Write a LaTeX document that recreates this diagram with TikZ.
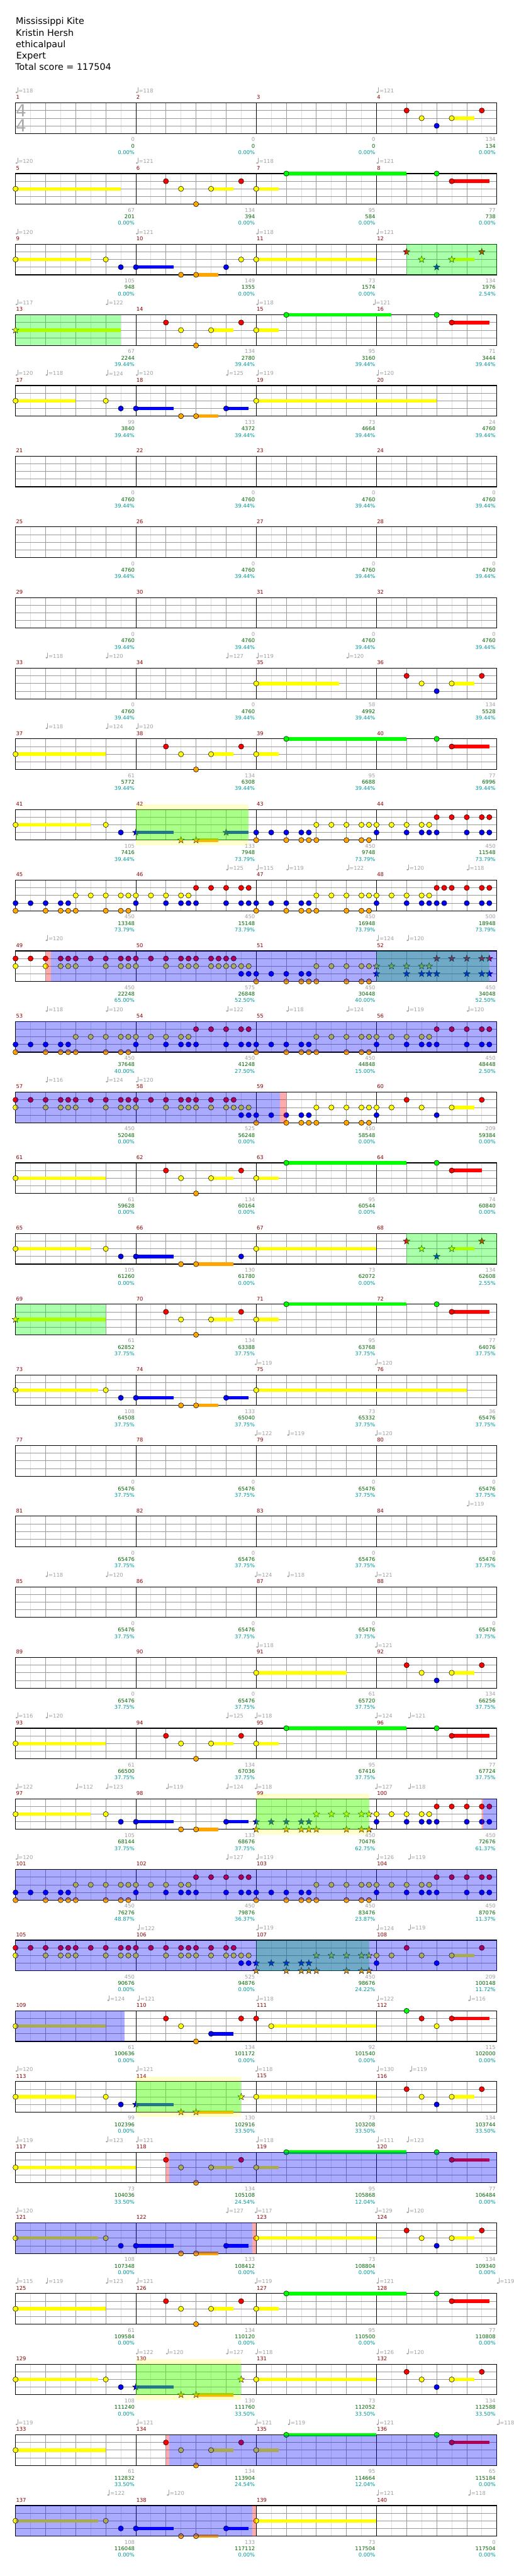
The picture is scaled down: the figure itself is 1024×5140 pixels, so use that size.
\documentclass[tikz,border=0pt]{standalone}
\usepackage{fontspec}
\setmainfont{DejaVu Sans}

\definecolor{barred}{RGB}{139,0,0}
\definecolor{tempogray}{RGB}{160,160,160}
\definecolor{totalgreen}{RGB}{0,100,0}
\definecolor{sppct}{RGB}{0,153,153}
\definecolor{gridgray}{RGB}{153,153,153}
\definecolor{gridlight}{RGB}{221,221,221}
\definecolor{tsgray}{RGB}{170,170,170}
\definecolor{ngreen}{RGB}{0,255,0}
\definecolor{nred}{RGB}{255,0,0}
\definecolor{nyellow}{RGB}{255,255,0}
\definecolor{nblue}{RGB}{0,0,255}
\definecolor{norange}{RGB}{255,165,0}

\tikzset{every picture/.style={line width=0.75pt}}
\tikzset{
  lightgrid/.style={color=gridlight,line width=0.75pt},
  beatgrid/.style={color=gridgray,line width=0.75pt},
  barline/.style={color=black,line width=0.75pt},
  chartbox/.style={color=black,line width=1.1pt},
  notehead/.style={draw=black,line width=0.5pt},
  starhead/.style={draw=black,line width=0.4pt},
  chartfont/.style={inner sep=0pt,font=\fontsize{7.9}{9}\selectfont},
  barnum/.style={chartfont,anchor=west,text=barred},
  bpmlabel/.style={chartfont,anchor=west,text=tempogray},
  gainlabel/.style={chartfont,anchor=east,text=tempogray},
  totallabel/.style={chartfont,anchor=east,text=totalgreen},
  splabel/.style={chartfont,anchor=east,text=sppct},
  titletext/.style={anchor=base west,inner sep=0pt,font=\fontsize{13.5}{16}\selectfont},
  timesig/.style={inner sep=0pt,text=tsgray,font=\fontsize{25}{25}\selectfont}
}

\newcounter{bpmno}
% one row of four bars: row index, first bar number
\newcommand{\chartrow}[2]{%
  \pgfmathsetmacro\rowT{205.3+141*(#1-1)}%
  \foreach \k in {0.5,1.5,...,15.5} \draw[lightgrid] (31+60*\k,\rowT) -- ++(0,61);
  \foreach \k in {1,2,3,5,6,7,9,10,11,13,14,15} \draw[beatgrid] (31+60*\k,\rowT) -- ++(0,61);
  \foreach \l in {1,2,3} \draw[beatgrid] (31,\rowT+15.25*\l) -- (991,\rowT+15.25*\l);
  \foreach \k in {4,8,12} \draw[barline] (31+60*\k,\rowT) -- ++(0,61);
  \draw[chartbox] (31,\rowT) rectangle (991,\rowT+61);
  \foreach \i in {0,...,3} {\pgfmathtruncatemacro\mnum{#2+\i}
    \node[barnum] (bar\mnum) at (31.5+240*\i,\rowT-11) {\mnum};}
}
% notes: position in beats, lane (0 green ... 4 orange), colour
\newcommand{\nt}[3]{\filldraw[notehead,fill=#3] ({31+60*(#1)},{\rowT+15.25*(#2)}) circle (5.2);}
\newcommand{\st}[3]{\filldraw[starhead,fill=#3,shift={({31+60*(#1)},{\rowT+15.25*(#2)})}] (-90:7) -- (-54:2.9) -- (-18:7) -- (18:2.9) -- (54:7) -- (90:2.9) -- (126:7) -- (162:2.9) -- (198:7) -- (234:2.9) -- cycle;}
\newcommand{\sus}[4]{\fill[#4] ({31+60*(#1)},{\rowT+15.25*(#3)-3.4}) rectangle ({31+60*(#2)},{\rowT+15.25*(#3)+3.4});}
% shaded zones
\newcommand{\spzone}[2]{\fill[ngreen,opacity=0.333] ({31+60*(#1)},\rowT) rectangle ({31+60*(#2)},{\rowT+61});}
\newcommand{\actzone}[2]{\fill[nblue,opacity=0.333] ({31+60*(#1)},\rowT) rectangle ({31+60*(#2)},{\rowT+61});}
\newcommand{\squeeze}[2]{\fill[nred,opacity=0.333] ({31+60*(#1)},\rowT) rectangle ({31+60*(#2)},{\rowT+61});}
\newcommand{\whammy}[2]{\fill[nyellow,opacity=0.2] ({31+60*(#1)},{\rowT-10}) rectangle ({31+60*(#2)},{\rowT+71});}
% tempo mark
\newcommand{\bpm}[2]{\stepcounter{bpmno}%
  \fill[tempogray] ({31+60*(#1)+2},{\rowT-21}) ellipse (2.2 and 1.6);
  \draw[tempogray,line width=0.6pt] ({31+60*(#1)+4},{\rowT-21}) -- ++(0,-10);
  \node[bpmlabel] (bpm\arabic{bpmno}) at ({31+60*(#1)+5.3},{\rowT-24}) {=#2};}
% score lines under the bars
\newcommand{\scores}[2]{\foreach \a/\b/\c [count=\i from 0] in {#2} {
  \node[gainlabel] (gain-#1-\i) at (29+240*\i+240,\rowT+73) {\a};
  \node[totallabel] (total-#1-\i) at (29+240*\i+240,\rowT+86) {\b};
  \node[splabel] (sp-#1-\i) at (29+240*\i+240,\rowT+99) {\c\%};}}
% repeated figures
\newcommand{\versepart}[2]{%
  \sus{6.5}{7.25}{2}{nyellow}\sus{8}{8.75}{2}{nyellow}\sus{9}{#1}{0}{ngreen}\sus{14.5}{#2}{1}{nred}
  \nt{5}{1}{nred}\nt{5.5}{2}{nyellow}\nt{6}{4}{norange}\nt{6.5}{2}{nyellow}\nt{7.5}{1}{nred}
  \nt{8}{2}{nyellow}\nt{9}{0}{ngreen}\nt{14}{0}{ngreen}\nt{14.5}{1}{nred}}
\newcommand{\lick}[1]{\sus{14.5}{15.25}{2}{nyellow}%
  #1{13}{1}{nred}#1{13.5}{2}{nyellow}#1{14}{3}{nblue}#1{14.5}{2}{nyellow}#1{15.5}{1}{nred}}
\newcommand{\riff}[8]{%
  \foreach \p in {0,0.5,1,1.5,1.75} {#8{#1+\p}{#2}{#3}}
  \foreach \p in {0,1,1.5,1.75,2,3,3.5,3.75} {#8{#1+\p}{#4}{#5}}
  \foreach \p in {2,2.5,3,3.5,3.75} {#8{#1+\p}{#6}{#7}}}
\newcommand{\riffA}[2]{\riff{#1}{3}{nblue}{4}{norange}{2}{nyellow}{#2}}
\newcommand{\riffB}[2]{\riff{#1}{2}{nyellow}{3}{nblue}{1}{nred}{#2}}
\newcommand{\ryrun}{%
  \foreach \p in {0,0.5,1,1.5,1.75,2,2.5,3,3.5,3.75,4,4.5,5,5.5,5.75,6,6.5,7,7.25} {\nt{\p}{1}{nred}}
  \foreach \p in {0,1,1.5,1.75,2,3,3.5,3.75,4,5,5.5,5.75,6,6.5,7,7.25,7.5,7.75} {\nt{\p}{2}{nyellow}}
  \nt{7.5}{3}{nblue}\nt{7.75}{3}{nblue}}
% opening figure: first sustain end, orange sustain end, last blue note
\newcommand{\openpart}[2]{%
  \sus{4}{5.25}{3}{nblue}\sus{6}{#2}{4}{norange}
  \nt{3}{2}{nyellow}\nt{3.5}{3}{nblue}\nt{4}{3}{nblue}\nt{5.5}{4}{norange}\nt{6}{4}{norange}}

\begin{document}
\begin{tikzpicture}[x=0.75pt,y=0.75pt,yscale=-1,xscale=1]
\useasboundingbox (0,0) rectangle (1024,5140);
\fill[white] (0,0) rectangle (1024,5140);

% Header
\node[titletext] (song) at (31,48.3) {Mississippi Kite};
\node[titletext] (artist) at (31,71.7) {Kristin Hersh};
\node[titletext] (charter) at (31,94.3) {ethicalpaul};
\node[titletext] (difficulty) at (32,116.9) {Expert};
\node[titletext] (total) at (30,140) {Total score = 117504};

% Row 1
\chartrow{1}{1}
\node[timesig] (tsupper) at (42,\rowT+15.5) {4};
\node[timesig] (tslower) at (42,\rowT+45.5) {4};
\bpm{0}{118}\bpm{4}{118}\bpm{12}{121}
\lick{\nt}
\scores{1}{0/0/0.00,0/0/0.00,0/0/0.00,134/134/0.00}

% Row 2
\chartrow{2}{5}
\bpm{0}{120}\bpm{4}{121}\bpm{8}{118}\bpm{12}{121}
\sus{0}{3.5}{2}{nyellow}\nt{0}{2}{nyellow}
\versepart{13}{15.75}
\scores{2}{67/201/0.00,134/394/0.00,95/584/0.00,77/738/0.00}

% Row 3
\chartrow{3}{9}
\bpm{0}{120}\bpm{4}{121}\bpm{8}{118}\bpm{12}{121}
\sus{0}{2.5}{2}{nyellow}\sus{8}{12}{2}{nyellow}\nt{0}{2}{nyellow}
\openpart{5.25}{6.75}
\nt{7}{3}{nblue}\nt{7.5}{2}{nyellow}\nt{8}{2}{nyellow}
\lick{\st}
\spzone{13}{16}
\scores{3}{105/948/0.00,149/1355/0.00,73/1574/0.00,134/1976/2.54}

% Row 4
\chartrow{4}{13}
\bpm{0}{117}\bpm{3}{122}\bpm{8}{118}\bpm{11.88}{121}
\sus{0}{3.5}{2}{nyellow}\st{0}{2}{nyellow}
\versepart{12.5}{15.75}
\spzone{0}{3.5}
\scores{4}{67/2244/39.44,134/2780/39.44,95/3160/39.44,71/3444/39.44}

% Row 5
\chartrow{5}{17}
\bpm{0}{120}\bpm{1}{118}\bpm{3}{124}\bpm{4}{120}\bpm{7}{125}\bpm{8}{119}\bpm{12}{120}
\sus{0}{2}{2}{nyellow}\sus{7}{7.75}{3}{nblue}\sus{8}{14}{2}{nyellow}\nt{0}{2}{nyellow}
\openpart{5.25}{6.75}
\nt{7}{3}{nblue}\nt{8}{2}{nyellow}
\scores{5}{99/3840/39.44,133/4372/39.44,73/4664/39.44,24/4760/39.44}

% Rows 6-8 (rest)
\chartrow{6}{21}
\scores{6}{0/4760/39.44,0/4760/39.44,0/4760/39.44,0/4760/39.44}
\chartrow{7}{25}
\scores{7}{0/4760/39.44,0/4760/39.44,0/4760/39.44,0/4760/39.44}
\chartrow{8}{29}
\scores{8}{0/4760/39.44,0/4760/39.44,0/4760/39.44,0/4760/39.44}

% Row 9
\chartrow{9}{33}
\bpm{1}{118}\bpm{3}{120}\bpm{7}{127}\bpm{8}{119}\bpm{11}{120}
\sus{8}{10.75}{2}{nyellow}\nt{8}{2}{nyellow}
\lick{\nt}
\scores{9}{0/4760/39.44,0/4760/39.44,58/4992/39.44,134/5528/39.44}

% Row 10
\chartrow{10}{37}
\bpm{1}{118}\bpm{3}{124}\bpm{4}{120}
\sus{0}{3}{2}{nyellow}\nt{0}{2}{nyellow}
\versepart{13}{15.75}
\scores{10}{61/5772/39.44,134/6308/39.44,95/6688/39.44,77/6996/39.44}

% Row 11
\chartrow{11}{41}
\sus{0}{2.5}{2}{nyellow}\sus{4}{5.25}{3}{nblue}\sus{6}{6.75}{4}{norange}\sus{7}{7.75}{3}{nblue}
\nt{0}{2}{nyellow}\nt{3}{2}{nyellow}\nt{3.5}{3}{nblue}
\st{4}{3}{nblue}\st{5.5}{4}{norange}\st{6}{4}{norange}\st{7}{3}{nblue}
\riffA{8}{\nt}\riffB{12}{\nt}
\whammy{4}{7.75}\spzone{4}{7.75}
\scores{11}{105/7416/39.44,133/7948/73.79,450/9748/73.79,450/11548/73.79}

% Row 12
\chartrow{12}{45}
\bpm{7}{125}\bpm{8}{115}\bpm{9}{119}\bpm{11}{122}\bpm{13}{120}\bpm{15}{118}
\riffA{0}{\nt}\riffB{4}{\nt}\riffA{8}{\nt}\riffB{12}{\nt}
\nt{14.25}{3}{nblue}\nt{14.25}{1}{nred}
\scores{12}{450/13348/73.79,450/15148/73.79,450/16948/73.79,500/18948/73.79}

% Row 13
\chartrow{13}{49}
\bpm{1}{120}\bpm{12}{124}\bpm{13}{120}
\ryrun\nt{6.75}{1}{nred}\nt{6.75}{2}{nyellow}
\riffA{8}{\nt}\riffB{12}{\st}
\spzone{12}{15.75}
\squeeze{1}{1.17}\actzone{1.17}{16}
\scores{13}{450/22248/65.00,575/26848/52.50,450/30448/40.00,450/34048/52.50}

% Row 14
\chartrow{14}{53}
\bpm{1}{118}\bpm{3}{120}\bpm{7}{122}\bpm{9}{118}\bpm{11}{124}\bpm{13}{119}\bpm{15}{120}
\riffA{0}{\nt}\riffB{4}{\nt}\riffA{8}{\nt}\riffB{12}{\nt}
\actzone{0}{16}
\scores{14}{450/37648/40.00,450/41248/27.50,450/44848/15.00,450/48448/2.50}

% Row 15
\chartrow{15}{57}
\bpm{1}{116}\bpm{3}{124}\bpm{4}{120}
\ryrun
\riffA{8}{\nt}
\nt{12}{2}{nyellow}\nt{12}{3}{nblue}\nt{12.5}{2}{nyellow}
\lick{\nt}
\actzone{0}{8.79}\squeeze{8.79}{9}
\scores{15}{450/52048/0.00,525/56248/0.00,450/58548/0.00,209/59384/0.00}

% Row 16
\chartrow{16}{61}
\sus{0}{3}{2}{nyellow}\nt{0}{2}{nyellow}
\versepart{13}{15.5}
\scores{16}{61/59628/0.00,134/60164/0.00,95/60544/0.00,74/60840/0.00}

% Row 17
\chartrow{17}{65}
\sus{0}{2.5}{2}{nyellow}\sus{8}{12}{2}{nyellow}\nt{0}{2}{nyellow}
\openpart{5.25}{7.25}
\nt{7.5}{3}{nblue}\nt{8}{2}{nyellow}
\lick{\st}
\spzone{13}{16}
\scores{17}{105/61260/0.00,130/61780/0.00,73/62072/0.00,134/62608/2.55}

% Row 18
\chartrow{18}{69}
\sus{0}{3}{2}{nyellow}\st{0}{2}{nyellow}
\versepart{13}{15.75}
\spzone{0}{3}
\scores{18}{61/62852/37.75,134/63388/37.75,95/63768/37.75,77/64076/37.75}

% Row 19
\chartrow{19}{73}
\bpm{7.95}{119}\bpm{11.95}{120}
\sus{0}{2.75}{2}{nyellow}\sus{7}{7.75}{3}{nblue}\sus{8}{15}{2}{nyellow}\nt{0}{2}{nyellow}
\openpart{5.25}{6.75}
\nt{7}{3}{nblue}\nt{8}{2}{nyellow}
\scores{19}{108/64508/37.75,133/65040/37.75,73/65332/37.75,36/65476/37.75}

% Rows 20-22 (rest)
\chartrow{20}{77}
\bpm{7.95}{122}\bpm{9.03}{119}\bpm{11.95}{120}
\scores{20}{0/65476/37.75,0/65476/37.75,0/65476/37.75,0/65476/37.75}
\chartrow{21}{81}
\bpm{15}{119}
\scores{21}{0/65476/37.75,0/65476/37.75,0/65476/37.75,0/65476/37.75}
\chartrow{22}{85}
\bpm{1}{118}\bpm{3}{120}\bpm{7.95}{124}\bpm{9.03}{118}\bpm{11.95}{121}
\scores{22}{0/65476/37.75,0/65476/37.75,0/65476/37.75,0/65476/37.75}

% Row 23
\chartrow{23}{89}
\bpm{8}{118}\bpm{11.95}{121}
\sus{8}{11}{2}{nyellow}\nt{8}{2}{nyellow}
\lick{\nt}
\scores{23}{0/65476/37.75,0/65476/37.75,61/65720/37.75,134/66256/37.75}

% Row 24
\chartrow{24}{93}
\bpm{0}{116}\bpm{1}{120}\bpm{7}{125}\bpm{7.95}{118}\bpm{11.95}{124}\bpm{13.05}{121}
\sus{0}{3}{2}{nyellow}\nt{0}{2}{nyellow}
\versepart{13}{15.75}
\scores{24}{61/66500/37.75,134/67036/37.75,95/67416/37.75,77/67724/37.75}

% Row 25
\chartrow{25}{97}
\bpm{0}{122}\bpm{2}{112}\bpm{3}{123}\bpm{5}{119}\bpm{7}{124}\bpm{7.95}{118}\bpm{11.95}{127}\bpm{13.05}{118}
\sus{0}{2.5}{2}{nyellow}\sus{7}{7.75}{3}{nblue}\nt{0}{2}{nyellow}
\openpart{5.25}{6.75}
\nt{7}{3}{nblue}
\riffA{8}{\st}\riffB{12}{\nt}
\whammy{8}{11.75}\spzone{8}{11.75}
\squeeze{15.5}{15.55}\actzone{15.55}{16}
\scores{25}{105/68144/37.75,133/68676/37.75,450/70476/62.75,450/72676/61.37}

% Row 26
\chartrow{26}{101}
\bpm{0}{120}\bpm{7}{127}\bpm{8}{119}\bpm{12}{126}\bpm{13.05}{119}
\riffA{0}{\nt}\riffB{4}{\nt}\riffA{8}{\nt}\riffB{12}{\nt}
\actzone{0}{16}
\scores{26}{450/76276/48.87,450/79876/36.37,450/83476/23.87,450/87076/11.37}

% Row 27
\chartrow{27}{105}
\bpm{4.05}{122}\bpm{8}{119}\bpm{12}{124}\bpm{13.05}{119}
\ryrun
\riffA{8}{\st}
\nt{12}{2}{nyellow}\nt{12}{3}{nblue}\nt{12.5}{2}{nyellow}
\lick{\nt}
\spzone{8}{11.75}\actzone{0}{16}
\scores{27}{450/90676/0.00,525/94876/0.00,450/98676/24.22,209/100148/11.72}

% Row 28
\chartrow{28}{109}
\bpm{3.05}{124}\bpm{4.05}{121}\bpm{8}{118}\bpm{12}{122}\bpm{15.05}{116}
\sus{0}{3}{2}{nyellow}\sus{6.5}{7.25}{3}{nblue}\sus{8.5}{12}{2}{nyellow}\sus{14.5}{15.75}{1}{nred}
\nt{0}{2}{nyellow}\nt{5}{1}{nred}\nt{5.5}{2}{nyellow}\nt{6}{4}{norange}\nt{6.5}{3}{nblue}
\nt{7.5}{1}{nred}\nt{8}{1}{nred}\nt{8.5}{2}{nyellow}\nt{13}{0}{ngreen}\nt{13.5}{1}{nred}
\nt{14}{2}{nyellow}\nt{14.5}{1}{nred}
\actzone{0}{3.62}
\scores{28}{61/100636/0.00,134/101172/0.00,92/101540/0.00,115/102000/0.00}

% Row 29
\chartrow{29}{113}
\bpm{0}{120}\bpm{4}{121}\bpm{7.97}{118}\bpm{12}{130}\bpm{13.1}{119}
\sus{0}{2}{2}{nyellow}\sus{4}{5.25}{3}{nblue}\sus{6}{7.25}{4}{norange}\sus{8}{12}{2}{nyellow}
\nt{0}{2}{nyellow}\nt{3}{2}{nyellow}\nt{3.5}{3}{nblue}\st{4}{3}{nblue}\st{5.5}{4}{norange}
\st{6}{4}{norange}\st{7.5}{2}{nyellow}\nt{8}{2}{nyellow}
\lick{\nt}
\whammy{4}{7.5}\spzone{4}{7.5}
\scores{29}{99/102396/0.00,130/102916/33.50,73/103208/33.50,134/103744/33.50}

% Row 30
\chartrow{30}{117}
\bpm{0}{119}\bpm{3}{123}\bpm{4}{121}\bpm{8}{118}\bpm{12}{111}\bpm{13}{123}
\sus{0}{4}{2}{nyellow}\nt{0}{2}{nyellow}
\versepart{13}{15.75}
\squeeze{5}{5.1}\actzone{5.1}{16}
\scores{30}{73/104036/33.50,134/105108/24.54,95/105868/12.04,77/106484/0.00}

% Row 31
\chartrow{31}{121}
\bpm{0}{120}\bpm{7}{127}\bpm{7.95}{117}\bpm{11.95}{129}\bpm{13}{120}
\sus{0}{2.75}{2}{nyellow}\sus{7}{7.75}{3}{nblue}\sus{8}{12}{2}{nyellow}\nt{0}{2}{nyellow}
\openpart{5.25}{6.75}
\nt{7}{3}{nblue}\nt{8}{2}{nyellow}
\lick{\nt}
\actzone{0}{7.86}\squeeze{7.86}{8}
\scores{31}{108/107348/0.00,133/108412/0.00,73/108804/0.00,134/109340/0.00}

% Row 32
\chartrow{32}{125}
\bpm{0}{115}\bpm{1}{119}\bpm{3}{123}\bpm{4}{121}\bpm{7.95}{119}\bpm{12}{121}\bpm{16}{119}
\sus{0}{3}{2}{nyellow}\nt{0}{2}{nyellow}
\versepart{13}{15.75}
\scores{32}{61/109584/0.00,134/110120/0.00,95/110500/0.00,77/110808/0.00}

% Row 33
\chartrow{33}{129}
\bpm{4}{122}\bpm{5}{120}\bpm{7}{127}\bpm{7.97}{118}\bpm{12}{126}\bpm{13}{120}
\sus{0}{2.75}{2}{nyellow}\sus{4}{5.25}{3}{nblue}\sus{6}{7.25}{4}{norange}\sus{8}{12}{2}{nyellow}
\nt{0}{2}{nyellow}\nt{3}{2}{nyellow}\nt{3.5}{3}{nblue}\st{4}{3}{nblue}\st{5.5}{4}{norange}
\st{6}{4}{norange}\st{7.5}{2}{nyellow}\nt{8}{2}{nyellow}
\lick{\nt}
\whammy{4}{7.5}\spzone{4}{7.5}
\scores{33}{108/111240/0.00,130/111760/33.50,73/112052/33.50,134/112588/33.50}

% Row 34
\chartrow{34}{133}
\bpm{0}{119}\bpm{4}{121}\bpm{7.95}{121}\bpm{9.05}{119}\bpm{12}{121}\bpm{16}{118}
\sus{0}{3}{2}{nyellow}\nt{0}{2}{nyellow}
\versepart{12}{15.75}
\squeeze{5}{5.1}\actzone{5.1}{16}
\scores{34}{61/112832/33.50,134/113904/24.54,95/114664/12.04,65/115184/0.00}

% Row 35
\chartrow{35}{137}
\bpm{3.05}{122}\bpm{5.03}{120}\bpm{12}{121}\bpm{15.05}{118}
\sus{0}{2.75}{2}{nyellow}\sus{7}{7.75}{3}{nblue}\sus{8}{12}{2}{nyellow}\nt{0}{2}{nyellow}
\openpart{5.25}{6.75}
\nt{7}{3}{nblue}\nt{8}{2}{nyellow}
\actzone{0}{7.86}\squeeze{7.86}{8}
\scores{35}{108/116048/0.00,133/117112/0.00,73/117504/0.00,0/117504/0.00}

\end{tikzpicture}
\end{document}
